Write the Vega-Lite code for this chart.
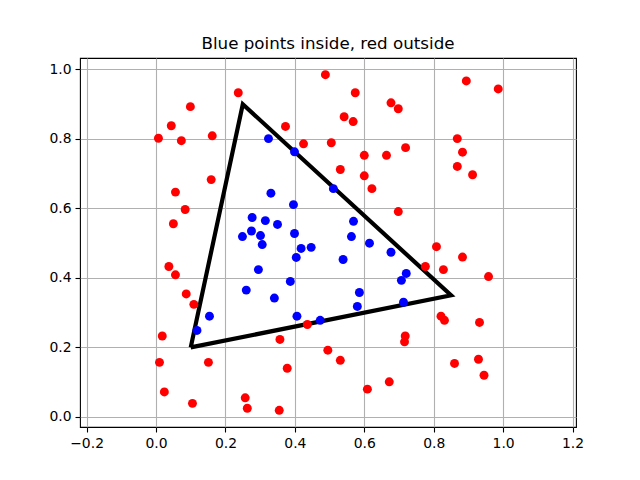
{
  "$schema": "https://vega.github.io/schema/vega-lite/v6.json",
  "width": 496,
  "height": 369,
  "autosize": {"type": "none"},
  "padding": {"left": 80, "right": 64, "top": 58, "bottom": 53},
  "background": "white",
  "title": {"text": "Blue points inside, red outside", "font": "DejaVu Sans", "fontSize": 16.7, "fontWeight": "normal", "color": "black", "offset": 5},
  "config": {
    "view": {"stroke": "black", "strokeWidth": 1.1},
    "axis": {
      "domain": false,
      "grid": true,
      "gridColor": "#b0b0b0",
      "gridWidth": 1.1,
      "tickColor": "black",
      "tickWidth": 1.1,
      "tickSize": 5,
      "labelPadding": 4,
      "labelFont": "DejaVu Sans",
      "labelFontSize": 13.9,
      "labelColor": "black",
      "title": null
    }
  },
  "datasets": {
    "tri": [
      {"x": 0.1, "y": 0.2, "o": 0},
      {"x": 0.25, "y": 0.9, "o": 1},
      {"x": 0.85, "y": 0.35, "o": 2},
      {"x": 0.1, "y": 0.2, "o": 3}
    ],
    "pts": [
      {"x": 0.324, "y": 0.801, "c": "in"},
      {"x": 0.399, "y": 0.763, "c": "in"},
      {"x": 0.331, "y": 0.644, "c": "in"},
      {"x": 0.396, "y": 0.611, "c": "in"},
      {"x": 0.277, "y": 0.574, "c": "in"},
      {"x": 0.315, "y": 0.565, "c": "in"},
      {"x": 0.350, "y": 0.554, "c": "in"},
      {"x": 0.399, "y": 0.528, "c": "in"},
      {"x": 0.275, "y": 0.535, "c": "in"},
      {"x": 0.249, "y": 0.519, "c": "in"},
      {"x": 0.301, "y": 0.522, "c": "in"},
      {"x": 0.306, "y": 0.496, "c": "in"},
      {"x": 0.418, "y": 0.485, "c": "in"},
      {"x": 0.447, "y": 0.488, "c": "in"},
      {"x": 0.404, "y": 0.459, "c": "in"},
      {"x": 0.295, "y": 0.424, "c": "in"},
      {"x": 0.387, "y": 0.390, "c": "in"},
      {"x": 0.260, "y": 0.365, "c": "in"},
      {"x": 0.341, "y": 0.342, "c": "in"},
      {"x": 0.154, "y": 0.290, "c": "in"},
      {"x": 0.406, "y": 0.290, "c": "in"},
      {"x": 0.473, "y": 0.278, "c": "in"},
      {"x": 0.118, "y": 0.249, "c": "in"},
      {"x": 0.511, "y": 0.657, "c": "in"},
      {"x": 0.569, "y": 0.563, "c": "in"},
      {"x": 0.563, "y": 0.519, "c": "in"},
      {"x": 0.615, "y": 0.500, "c": "in"},
      {"x": 0.677, "y": 0.474, "c": "in"},
      {"x": 0.539, "y": 0.453, "c": "in"},
      {"x": 0.721, "y": 0.413, "c": "in"},
      {"x": 0.707, "y": 0.393, "c": "in"},
      {"x": 0.586, "y": 0.358, "c": "in"},
      {"x": 0.580, "y": 0.318, "c": "in"},
      {"x": 0.713, "y": 0.330, "c": "in"},
      {"x": 0.488, "y": 0.985, "c": "out"},
      {"x": 0.237, "y": 0.933, "c": "out"},
      {"x": 0.099, "y": 0.893, "c": "out"},
      {"x": 0.044, "y": 0.838, "c": "out"},
      {"x": 0.373, "y": 0.836, "c": "out"},
      {"x": 0.007, "y": 0.802, "c": "out"},
      {"x": 0.073, "y": 0.795, "c": "out"},
      {"x": 0.162, "y": 0.809, "c": "out"},
      {"x": 0.425, "y": 0.786, "c": "out"},
      {"x": 0.505, "y": 0.789, "c": "out"},
      {"x": 0.159, "y": 0.683, "c": "out"},
      {"x": 0.056, "y": 0.647, "c": "out"},
      {"x": 0.084, "y": 0.597, "c": "out"},
      {"x": 0.050, "y": 0.556, "c": "out"},
      {"x": 0.037, "y": 0.433, "c": "out"},
      {"x": 0.056, "y": 0.409, "c": "out"},
      {"x": 0.087, "y": 0.354, "c": "out"},
      {"x": 0.109, "y": 0.324, "c": "out"},
      {"x": 0.436, "y": 0.266, "c": "out"},
      {"x": 0.018, "y": 0.233, "c": "out"},
      {"x": 0.357, "y": 0.223, "c": "out"},
      {"x": 0.495, "y": 0.192, "c": "out"},
      {"x": 0.010, "y": 0.157, "c": "out"},
      {"x": 0.151, "y": 0.157, "c": "out"},
      {"x": 0.378, "y": 0.140, "c": "out"},
      {"x": 0.024, "y": 0.072, "c": "out"},
      {"x": 0.105, "y": 0.039, "c": "out"},
      {"x": 0.257, "y": 0.055, "c": "out"},
      {"x": 0.263, "y": 0.025, "c": "out"},
      {"x": 0.355, "y": 0.019, "c": "out"},
      {"x": 0.574, "y": 0.933, "c": "out"},
      {"x": 0.894, "y": 0.967, "c": "out"},
      {"x": 0.986, "y": 0.944, "c": "out"},
      {"x": 0.677, "y": 0.904, "c": "out"},
      {"x": 0.698, "y": 0.887, "c": "out"},
      {"x": 0.542, "y": 0.864, "c": "out"},
      {"x": 0.568, "y": 0.850, "c": "out"},
      {"x": 0.868, "y": 0.801, "c": "out"},
      {"x": 0.883, "y": 0.762, "c": "out"},
      {"x": 0.719, "y": 0.775, "c": "out"},
      {"x": 0.600, "y": 0.753, "c": "out"},
      {"x": 0.664, "y": 0.753, "c": "out"},
      {"x": 0.868, "y": 0.721, "c": "out"},
      {"x": 0.912, "y": 0.697, "c": "out"},
      {"x": 0.531, "y": 0.712, "c": "out"},
      {"x": 0.600, "y": 0.694, "c": "out"},
      {"x": 0.622, "y": 0.657, "c": "out"},
      {"x": 0.698, "y": 0.591, "c": "out"},
      {"x": 0.808, "y": 0.490, "c": "out"},
      {"x": 0.883, "y": 0.460, "c": "out"},
      {"x": 0.776, "y": 0.433, "c": "out"},
      {"x": 0.828, "y": 0.424, "c": "out"},
      {"x": 0.958, "y": 0.404, "c": "out"},
      {"x": 0.821, "y": 0.290, "c": "out"},
      {"x": 0.831, "y": 0.278, "c": "out"},
      {"x": 0.932, "y": 0.272, "c": "out"},
      {"x": 0.718, "y": 0.233, "c": "out"},
      {"x": 0.716, "y": 0.216, "c": "out"},
      {"x": 0.531, "y": 0.163, "c": "out"},
      {"x": 0.860, "y": 0.154, "c": "out"},
      {"x": 0.929, "y": 0.166, "c": "out"},
      {"x": 0.945, "y": 0.120, "c": "out"},
      {"x": 0.672, "y": 0.101, "c": "out"},
      {"x": 0.609, "y": 0.080, "c": "out"}
    ]
  },
  "layer": [
    {
      "data": {"name": "tri"},
      "mark": {"type": "line", "color": "black", "strokeWidth": 4.2, "strokeJoin": "miter", "clip": true},
      "encoding": {
        "x": {"field": "x", "type": "quantitative", "scale": {"domain": [-0.219, 1.21], "nice": false, "zero": false}, "axis": {"values": [-0.2, 0, 0.2, 0.4, 0.6, 0.8, 1.0, 1.2], "format": ".1f"}},
        "y": {"field": "y", "type": "quantitative", "scale": {"domain": [-0.029, 1.033], "nice": false, "zero": false}, "axis": {"values": [0, 0.2, 0.4, 0.6, 0.8, 1.0], "format": ".1f"}},
        "order": {"field": "o", "type": "quantitative"}
      }
    },
    {
      "data": {"name": "pts"},
      "mark": {"type": "circle", "size": 80, "opacity": 1},
      "encoding": {
        "x": {"field": "x", "type": "quantitative"},
        "y": {"field": "y", "type": "quantitative"},
        "color": {"field": "c", "type": "nominal", "scale": {"domain": ["in", "out"], "range": ["#0000ff", "#ff0000"]}, "legend": null}
      }
    }
  ]
}
